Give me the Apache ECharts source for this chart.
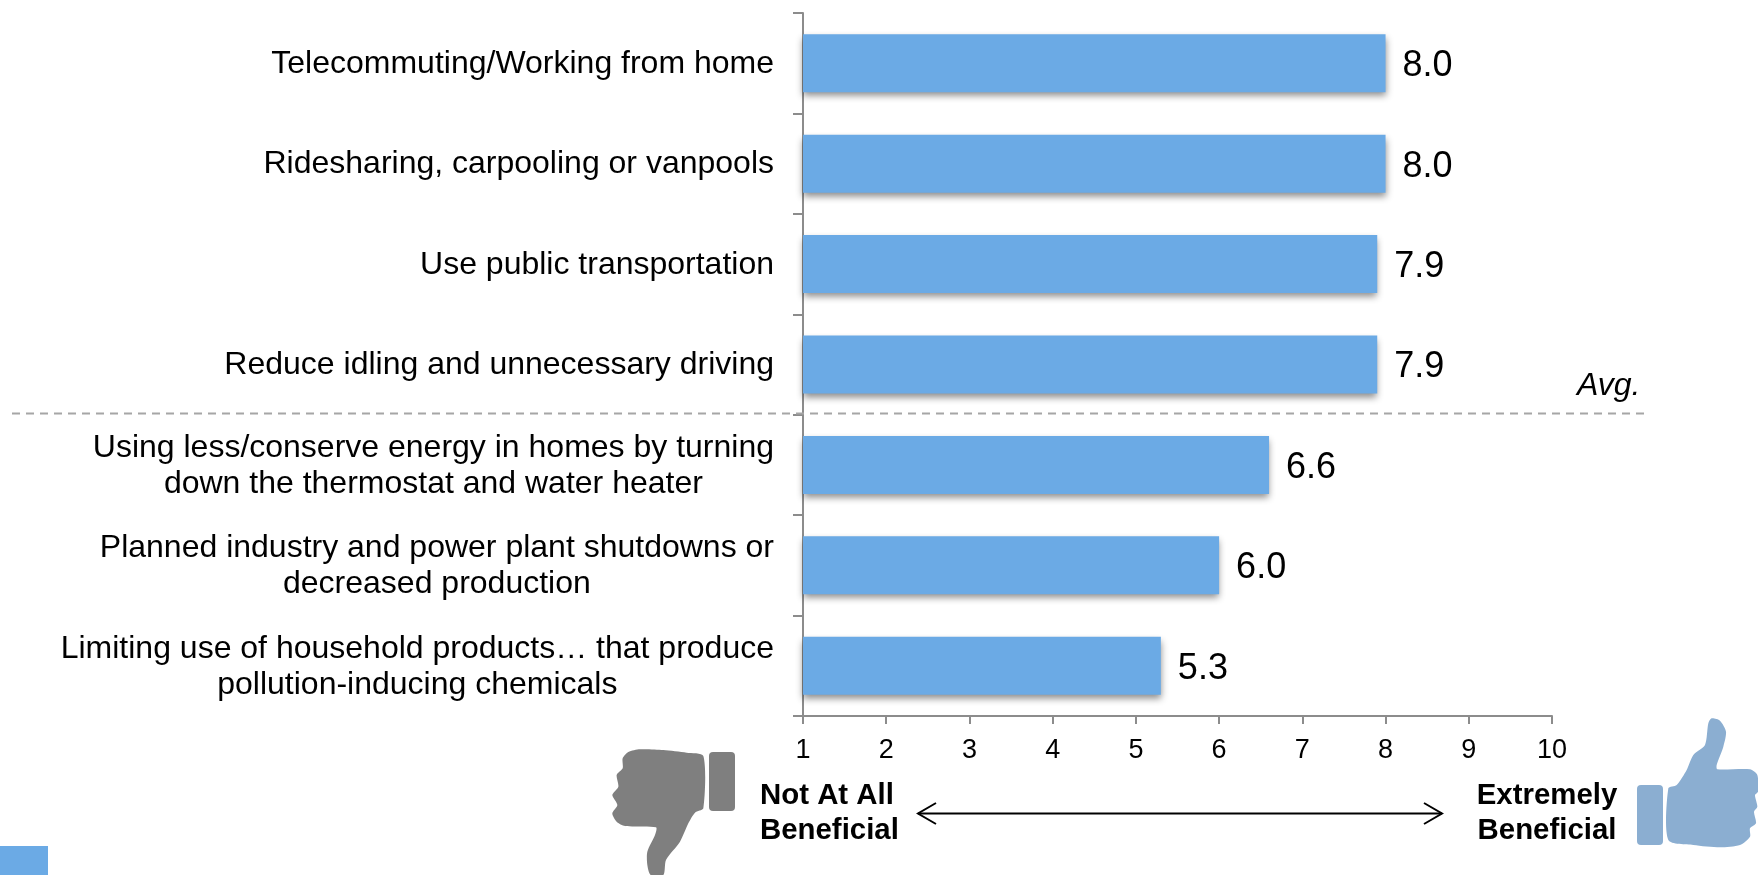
<!DOCTYPE html>
<html>
<head>
<meta charset="utf-8">
<style>html,body{margin:0;padding:0;background:#fff}#chart{width:1758px;height:875px}</style>
<script src="https://cdn.jsdelivr.net/npm/echarts@6/dist/echarts.min.js"></script>
</head>
<body>
<div id="chart"></div>
<script>
// Perceived benefit of each air-quality action, on a 1-10 scale
const categories = [
  'Telecommuting/Working from home',
  'Ridesharing, carpooling or vanpools',
  'Use public transportation',
  'Reduce idling and unnecessary driving',
  'Using less/conserve energy in homes by turning\ndown the thermostat and water heater',
  'Planned industry and power plant shutdowns or\ndecreased production',
  'Limiting use of household products\u2026 that produce\npollution-inducing chemicals'
];
const scores = [8.0, 8.0, 7.9, 7.9, 6.6, 6.0, 5.3];
const scaleTicks = [1, 2, 3, 4, 5, 6, 7, 8, 9, 10];

const FONT = '"Liberation Sans", Arial, sans-serif';
const BLUE = '#6BAAE5';
const AXIS = '#8C8C8C';

// Outline helpers for the two thumb icons
const at = (ox, oy, pts) => pts.map(p => [ox + p[0] / 3, oy + p[1] / 3]);
const thumbDown = at(560, 690, [[430,198],[380,188],[310,180],[240,178],[205,186],[188,205],[188,235],[170,255],[175,290],[157,315],[172,345],[157,370],[170,395],[195,408],[288,412],[285,435],[262,485],[262,525],[272,555],[310,555],[318,510],[360,455],[385,400],[405,368],[430,355]]);
const thumbUp = at(1400, 690, [[805,295],[830,285],[860,240],[880,195],[915,165],[925,100],[935,85],[960,92],[978,125],[970,170],[950,225],[952,238],[1050,238],[1072,255],[1074,305],[1065,315],[1072,350],[1062,365],[1068,400],[1050,415],[1050,440],[1020,465],[960,472],[880,465],[805,450]]);

const chart = echarts.init(document.getElementById('chart'), null, { renderer: 'canvas' });
chart.setOption({
  animation: false,
  backgroundColor: '#fff',
  textStyle: { fontFamily: FONT },
  grid: { left: 803, right: 206, top: 13, bottom: 159 },
  xAxis: {
    type: 'value', min: scaleTicks[0], max: scaleTicks[scaleTicks.length - 1], interval: 1,
    splitLine: { show: false },
    axisLine: { show: true, lineStyle: { color: AXIS, width: 2 } },
    axisTick: { show: true, length: 8, lineStyle: { color: AXIS, width: 2 } },
    axisLabel: { color: '#000', fontSize: 27, fontFamily: FONT, margin: 21 }
  },
  yAxis: {
    type: 'category', inverse: true, data: categories,
    axisLine: { show: true, lineStyle: { color: AXIS, width: 2 } },
    axisTick: { show: true, length: 10, lineStyle: { color: AXIS, width: 2 } },
    axisLabel: {
      margin: 29, align: 'right', padding: [2, 0, 0, 0],
      formatter: v => v.split('\n').map(line => '{c|' + line + '}').join('\n'),
      rich: { c: { align: 'center', fontSize: 32, lineHeight: 36, color: '#000', fontFamily: FONT } }
    }
  },
  series: [{
    type: 'bar', data: scores, barWidth: 58,
    itemStyle: { color: BLUE, shadowColor: 'rgba(0,0,0,0.45)', shadowBlur: 7, shadowOffsetY: 4 },
    label: {
      show: true, position: 'right', distance: 17, offset: [0, 3], color: '#000',
      fontSize: 36, fontFamily: FONT, formatter: p => p.value.toFixed(1)
    }
  }],
  graphic: { elements: [
    // Divider for the average
    { type: 'line', silent: true, z: 5, shape: { x1: 12, y1: 413.5, x2: 1645, y2: 413.5 },
      style: { stroke: '#A6A6A6', lineWidth: 2, lineDash: [8, 6] } },
    { type: 'text', x: 1577, y: 386, style: { text: 'Avg.', fontSize: 32, fontStyle: 'italic', fontFamily: FONT, fill: '#000', textVerticalAlign: 'middle' } },
    // Scale end captions
    { type: 'text', x: 760, y: 796, style: { text: 'Not At All', fontSize: 29.4, fontWeight: 'bold', fontFamily: FONT, fill: '#000', textVerticalAlign: 'middle' } },
    { type: 'text', x: 760, y: 831, style: { text: 'Beneficial', fontSize: 29.4, fontWeight: 'bold', fontFamily: FONT, fill: '#000', textVerticalAlign: 'middle' } },
    { type: 'text', x: 1547, y: 796, style: { text: 'Extremely', fontSize: 29.4, fontWeight: 'bold', fontFamily: FONT, fill: '#000', align: 'center', textVerticalAlign: 'middle' } },
    { type: 'text', x: 1547, y: 831, style: { text: 'Beneficial', fontSize: 29.4, fontWeight: 'bold', fontFamily: FONT, fill: '#000', align: 'center', textVerticalAlign: 'middle' } },
    // Double-headed arrow between the captions
    { type: 'line', shape: { x1: 918, y1: 813.5, x2: 1442, y2: 813.5 }, style: { stroke: '#000', lineWidth: 2 } },
    { type: 'polyline', shape: { points: [[936, 803], [918, 813.5], [936, 824]] }, style: { stroke: '#000', lineWidth: 2, fill: null } },
    { type: 'polyline', shape: { points: [[1424, 803], [1442, 813.5], [1424, 824]] }, style: { stroke: '#000', lineWidth: 2, fill: null } },
    // Thumb icons
    { type: 'polygon', shape: { points: thumbDown, smooth: 0.25 }, style: { fill: '#7F7F7F' } },
    { type: 'rect', shape: { x: 709, y: 752, width: 26, height: 59, r: 4 }, style: { fill: '#7F7F7F' } },
    { type: 'polygon', shape: { points: thumbUp, smooth: 0.25 }, style: { fill: '#8BAED1' } },
    { type: 'rect', shape: { x: 1637, y: 785, width: 26, height: 60, r: 4 }, style: { fill: '#8BAED1' } },
    // Corner block
    { type: 'rect', shape: { x: 0, y: 846, width: 48, height: 29 }, style: { fill: BLUE } }
  ] }
});
</script>
</body>
</html>
